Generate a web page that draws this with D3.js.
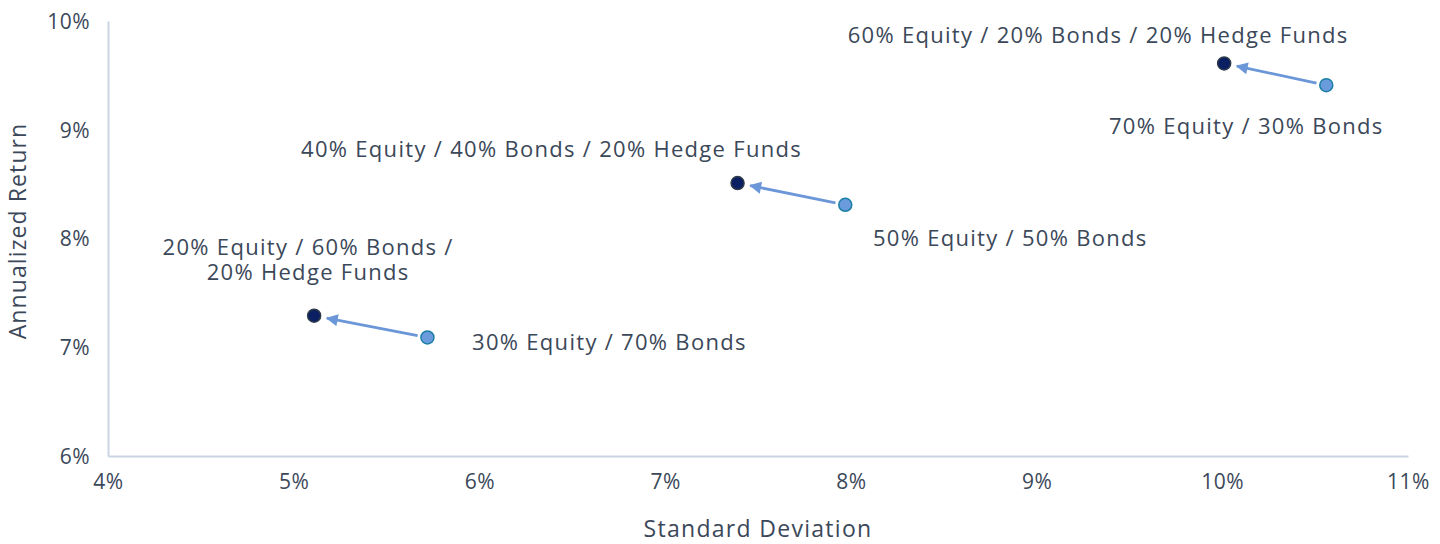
<!DOCTYPE html>
<html>
<head>
<meta charset="utf-8">
<script src="https://cdn.jsdelivr.net/npm/d3@7"></script>
<style>
  body { margin: 0; background: #fff; }
  text { font-family: "Open Sans", sans-serif; fill: #3b4859; }
</style>
</head>
<body>
<svg></svg>
<script>
// portfolios: current mix (light) vs mix with hedge funds (dark)
var fromNames = ["30% Equity / 70% Bonds", "50% Equity / 50% Bonds", "70% Equity / 30% Bonds"];
var fromRisk = [5.72, 7.97, 10.56];
var fromReturn = [7.09, 8.31, 9.41];

var toNames = [["20% Equity / 60% Bonds /", "20% Hedge Funds"],
               ["40% Equity / 40% Bonds / 20% Hedge Funds"],
               ["60% Equity / 20% Bonds / 20% Hedge Funds"]];
var toRisk = [5.11, 7.39, 10.01];
var toReturn = [7.29, 8.51, 9.61];

var xTicks = [4, 5, 6, 7, 8, 9, 10, 11];
var yTicks = [6, 7, 8, 9, 10];

// label placement relative to the point (px)
var fromLabelOff = [[182, 5], [165, 34], [-80, 41]];
var toLabelOff = [[-6, -68], [-186, -34], [-126, -28]];

var W = 1440, H = 544;
var svg = d3.select("svg")
    .attr("width", W)
    .attr("height", H);

var x = d3.scaleLinear().domain([4, 11]).range([108, 1408]);
var y = d3.scaleLinear().domain([6, 10]).range([456, 21]);

svg.append("defs").append("marker")
    .attr("id", "arr")
    .attr("viewBox", "0 0 10 10")
    .attr("refX", 9)
    .attr("refY", 5)
    .attr("markerWidth", 16)
    .attr("markerHeight", 12)
    .attr("markerUnits", "userSpaceOnUse")
    .attr("orient", "auto")
    .append("path")
    .attr("d", "M0,0 L10,5 L0,10 z")
    .attr("fill", "#6b97d9");

// axes
var xAxis = svg.append("g")
    .attr("transform", "translate(0," + y(6) + ")")
    .call(d3.axisBottom(x).tickValues(xTicks).tickSize(0).tickFormat(function(d){ return d + "%"; }));
xAxis.select(".domain").attr("stroke", "#c9d5e2").attr("stroke-width", 2);
xAxis.selectAll("text")
    .attr("dy", 0)
    .attr("y", 33)
    .style("font-size", "21px")
    .style("letter-spacing", "0.5px");

var yAxis = svg.append("g")
    .attr("transform", "translate(" + x(4) + ",0)")
    .call(d3.axisLeft(y).tickValues(yTicks).tickSize(0).tickFormat(function(d){ return d + "%"; }));
yAxis.select(".domain").attr("stroke", "#c9d5e2").attr("stroke-width", 2);
yAxis.selectAll("text")
    .attr("x", -18)
    .attr("dy", "0.35em")
    .style("font-size", "21px")
    .style("letter-spacing", "0.5px");

svg.selectAll(".tick text").style("fill", "#3b4859").attr("fill", "#3b4859");

// axis titles
svg.append("text")
    .attr("x", 758)
    .attr("y", 537)
    .attr("text-anchor", "middle")
    .style("font-size", "23px")
    .style("letter-spacing", "1.3px")
    .text("Standard Deviation");
svg.append("text")
    .attr("transform", "translate(26,231) rotate(-90)")
    .attr("text-anchor", "middle")
    .style("font-size", "23px")
    .style("letter-spacing", "1.1px")
    .text("Annualized Return");

// arrows from light to dark
var idx = d3.range(fromRisk.length);
svg.selectAll(".arrow")
    .data(idx)
    .join("line")
    .attr("class", "arrow")
    .each(function(i){
        var x1 = x(fromRisk[i]), y1 = y(fromReturn[i]);
        var x2 = x(toRisk[i]), y2 = y(toReturn[i]);
        var dx = x2 - x1, dy = y2 - y1, len = Math.sqrt(dx*dx + dy*dy);
        var ux = dx/len, uy = dy/len;
        d3.select(this)
            .attr("x1", x1 + ux*10).attr("y1", y1 + uy*10)
            .attr("x2", x2 - ux*13).attr("y2", y2 - uy*13);
    })
    .attr("stroke", "#6b97d9")
    .attr("stroke-width", 2.8)
    .attr("marker-end", "url(#arr)");

svg.selectAll(".fromPt")
    .data(idx)
    .join("circle")
    .attr("class", "fromPt")
    .attr("cx", function(i){ return x(fromRisk[i]); })
    .attr("cy", function(i){ return y(fromReturn[i]); })
    .attr("r", 6.5)
    .attr("fill", "#6a9bdc")
    .attr("stroke", "#1b7fa6")
    .attr("stroke-width", 1.5);

svg.selectAll(".toPt")
    .data(idx)
    .join("circle")
    .attr("class", "toPt")
    .attr("cx", function(i){ return x(toRisk[i]); })
    .attr("cy", function(i){ return y(toReturn[i]); })
    .attr("r", 6.5)
    .attr("fill", "#0b1f63")
    .attr("stroke", "#2e3a4a")
    .attr("stroke-width", 1.5);

// labels
svg.selectAll(".fromLbl")
    .data(idx)
    .join("text")
    .attr("class", "fromLbl")
    .attr("x", function(i){ return x(fromRisk[i]) + fromLabelOff[i][0]; })
    .attr("y", function(i){ return y(fromReturn[i]) + fromLabelOff[i][1]; })
    .attr("text-anchor", "middle")
    .attr("dy", "0.35em")
    .style("font-size", "22px")
    .style("letter-spacing", "1.3px")
    .text(function(i){ return fromNames[i]; });

idx.forEach(function(i){
    var cx = x(toRisk[i]) + toLabelOff[i][0];
    var cy = y(toReturn[i]) + toLabelOff[i][1];
    toNames[i].forEach(function(line, k){
        svg.append("text")
            .attr("class", "toLbl")
            .attr("x", cx)
            .attr("y", cy + k*25)
            .attr("dy", "0.35em")
            .attr("text-anchor", "middle")
            .style("font-size", "22px")
            .style("letter-spacing", "1.3px")
            .text(line);
    });
});
</script>
</body>
</html>
